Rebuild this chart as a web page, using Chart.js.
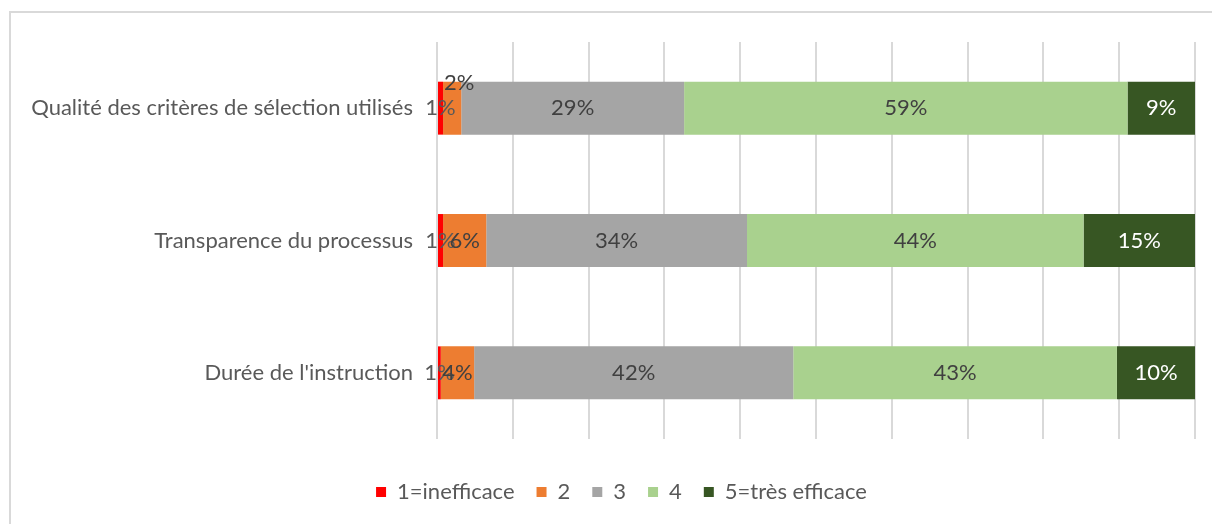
<!DOCTYPE html>
<html>
<head>
<meta charset="utf-8">
<script src="https://cdn.jsdelivr.net/npm/chart.js@4"></script>
<style>
    html, body { margin: 0; padding: 0; background: #fff; overflow: hidden; }
    #wrap { position: relative; width: 1212px; height: 524px; }
</style>
</head>
<body>
<div id="wrap"><canvas id="chart" width="1212" height="524"></canvas></div>
<script>
// Chart data
const categories = ['Qualité des critères de sélection utilisés', 'Transparence du processus', "Durée de l'instruction"];
const seriesNames = ['1=inefficace', '2', '3', '4', '5=très efficace'];
const seriesColors = ['#FF0000', '#ED7D31', '#A5A5A5', '#A9D18E', '#375623'];
const labelColors = ['#595959', '#404040', '#404040', '#404040', '#FFFFFF'];
const inefficace = [0.8, 0.8, 0.5];
const note2 = [2.4, 5.7, 4.4];
const note3 = [29.4, 34.4, 42.1];
const note4 = [58.5, 44.4, 42.7];
const tresEfficace = [8.9, 14.7, 10.3];
const seriesValues = [inefficace, note2, note3, note4, tresEfficace];

const FONT = 'Lato, "Open Sans", sans-serif';
const FONT_SIZE = 22;

/**
 * Draw the percentage labels on each bar segment
 */
const barLabels = {
    id: 'barLabels',
    afterDatasetsDraw(chart) {
        const ctx = chart.ctx;
        ctx.save();
        ctx.font = FONT_SIZE + 'px ' + FONT;
        ctx.textAlign = 'center';
        ctx.textBaseline = 'middle';
        chart.data.datasets.forEach((ds, i) => {
            chart.getDatasetMeta(i).data.forEach((bar, j) => {
                let x = (bar.x + bar.base) / 2;
                let y = bar.y;
                // Excel moved the tiny "2%" label above the first bar
                if (i === 1 && j === 0) { x += 7; y -= 25; }
                ctx.fillStyle = labelColors[i];
                ctx.fillText(Math.round(ds.data[j]) + '%', x, y);
            });
        });
        ctx.restore();
    }
};

/**
 * Light frame of the chart object (top and left edges visible),
 * and legend nudged to sit under the plot like in Excel
 */
const frame = {
    id: 'frame',
    afterLayout(chart) {
        chart.legend.left += 24;
        chart.legend.right += 24;
    },
    beforeDraw(chart) {
        const ctx = chart.ctx;
        ctx.save();
        ctx.strokeStyle = '#D9D9D9';
        ctx.lineWidth = 2;
        ctx.beginPath();
        ctx.moveTo(10, 524);
        ctx.lineTo(10, 12);
        ctx.lineTo(1212, 12);
        ctx.stroke();
        ctx.restore();
    }
};

new Chart(document.getElementById('chart'), {
    type: 'bar',
    data: {
        labels: categories,
        datasets: seriesNames.map((name, i) => ({
            label: name,
            data: seriesValues[i],
            backgroundColor: seriesColors[i],
            borderWidth: 0,
            categoryPercentage: 1,
            barPercentage: 0.4
        }))
    },
    options: {
        indexAxis: 'y',
        responsive: false,
        animation: false,
        layout: {
            padding: { top: 42, right: 17, left: 0, bottom: 11 }
        },
        scales: {
            x: {
                stacked: true,
                min: 0,
                max: 100,
                ticks: { display: false, stepSize: 10 },
                grid: { color: '#D9D9D9', lineWidth: 2, drawTicks: false },
                border: { display: false },
                afterFit(scale) { scale.height = 20; }
            },
            y: {
                stacked: true,
                grid: { display: false, drawTicks: false },
                border: { display: false },
                ticks: {
                    color: '#595959',
                    font: { family: FONT, size: FONT_SIZE },
                    padding: 24
                },
                afterFit(scale) { scale.width = 437; }
            }
        },
        plugins: {
            legend: {
                position: 'bottom',
                labels: {
                    color: '#595959',
                    font: { family: FONT, size: FONT_SIZE },
                    boxWidth: 10,
                    boxHeight: 10,
                    padding: 22
                }
            },
            tooltip: { enabled: false }
        }
    },
    plugins: [barLabels, frame]
});
</script>
</body>
</html>
